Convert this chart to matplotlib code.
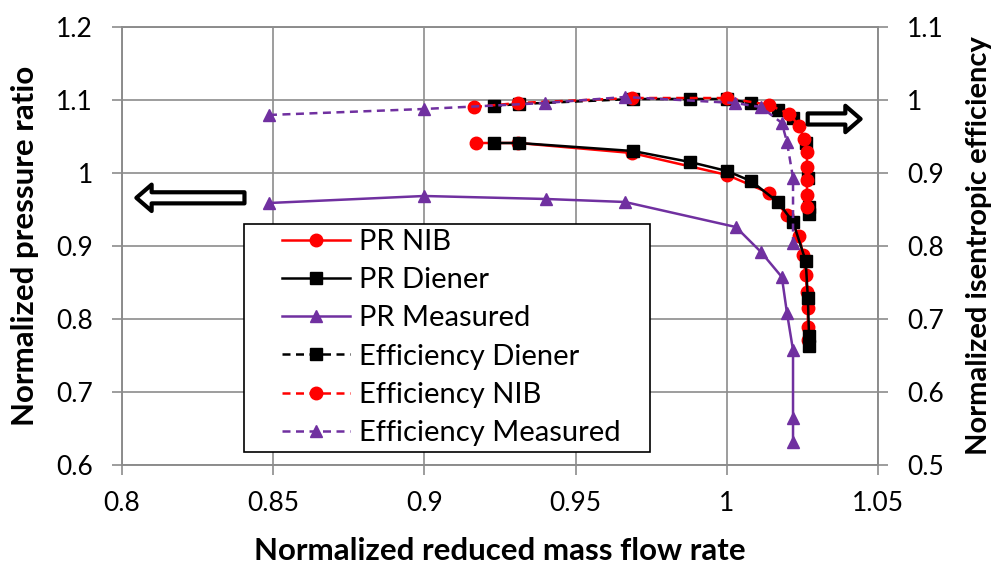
import matplotlib
matplotlib.use("Agg")
import matplotlib.pyplot as plt
from matplotlib.patches import Rectangle

plt.rcParams["font.family"] = ["Lato", "DejaVu Sans"]

# ---- data ----
pr_nib_x = [0.9171, 0.9310, 0.9686, 1.0001, 1.0140, 1.0199, 1.0240, 1.0252, 1.0261, 1.0265, 1.0268, 1.0268, 1.0268]
pr_nib_y = [1.0411, 1.0411, 1.0274, 0.9973, 0.9726, 0.9425, 0.9137, 0.8877, 0.8603, 0.8370, 0.8151, 0.7890, 0.7712]

pr_diener_x = [0.9230, 0.9313, 0.9690, 0.9878, 1.0001, 1.0080, 1.0169, 1.0219, 1.0261, 1.0268, 1.0272, 1.0272]
pr_diener_y = [1.0411, 1.0411, 1.0301, 1.0151, 1.0027, 0.9890, 0.9603, 0.9329, 0.8795, 0.8288, 0.7767, 0.7630]

pr_meas_x = [0.8486, 0.8999, 0.9402, 0.9663, 1.0030, 1.0113, 1.0182, 1.0199, 1.0219, 1.0219, 1.0219]
pr_meas_y = [0.9589, 0.9685, 0.9644, 0.9603, 0.9260, 0.8918, 0.8575, 0.8082, 0.7575, 0.6644, 0.6315]

eff_diener_x = pr_diener_x
eff_diener_y = [0.9918, 0.9945, 1.0014, 1.0014, 1.0014, 0.9959, 0.9863, 0.9753, 0.9411, 0.8932, 0.8534, 0.8438]

eff_nib_x = [0.9164, 0.9310, 0.9686, 1.0001, 1.0140, 1.0206, 1.0240, 1.0255, 1.0265, 1.0265, 1.0265, 1.0265, 1.0265]
eff_nib_y = [0.9904, 0.9959, 1.0027, 1.0027, 0.9932, 0.9808, 0.9644, 0.9466, 0.9288, 0.9082, 0.8904, 0.8699, 0.8534]

eff_meas_x = [0.8486, 0.8999, 0.9399, 0.9663, 1.0027, 1.0113, 1.0182, 1.0199, 1.0219, 1.0219]
eff_meas_y = [0.9795, 0.9877, 0.9959, 1.0041, 0.9959, 0.9904, 0.9685, 0.9425, 0.8932, 0.8041]

x_ticks = [0.8, 0.85, 0.9, 0.95, 1.0, 1.05]
pr_ticks = [0.6, 0.7, 0.8, 0.9, 1.0, 1.1, 1.2]
eff_ticks = [0.5, 0.6, 0.7, 0.8, 0.9, 1.0, 1.1]

RED = "#ff0000"
BLACK = "#000000"
PURPLE = "#7030a0"
GRID = "#8c8c8c"

def fmt(v):
    s = f"{v:.2f}".rstrip("0").rstrip(".")
    return s

fig = plt.figure(figsize=(9.94, 5.65), dpi=100)
ax = fig.add_axes([122 / 994, 1 - 465 / 565, 756 / 994, 438 / 565])
ax2 = ax.twinx()

lw = 1.8
ms = 9
dash = (0, (3.2, 2.2))

h1, = ax.plot(pr_nib_x, pr_nib_y, color=RED, lw=lw, marker="o", ms=ms, label="PR NIB")
h2, = ax.plot(pr_diener_x, pr_diener_y, color=BLACK, lw=lw, marker="s", ms=ms - 0.5, label="PR Diener")
h3, = ax.plot(pr_meas_x, pr_meas_y, color=PURPLE, lw=lw, marker="^", ms=ms, label="PR Measured")

h4, = ax2.plot(eff_diener_x, eff_diener_y, color=BLACK, lw=lw, ls=dash, marker="s", ms=ms - 0.5, label="Efficiency Diener")
h5, = ax2.plot(eff_nib_x, eff_nib_y, color=RED, lw=lw, ls=dash, marker="o", ms=ms, label="Efficiency NIB")
h6, = ax2.plot(eff_meas_x, eff_meas_y, color=PURPLE, lw=lw, ls=dash, marker="^", ms=ms, label="Efficiency Measured")

ax.set_xlim(0.8, 1.05)
ax.set_ylim(0.6, 1.2)
ax2.set_ylim(0.5, 1.1)
ax.set_xticks(x_ticks)
ax.set_xticklabels([fmt(v) for v in x_ticks])
ax.set_yticks(pr_ticks)
ax.set_yticklabels([fmt(v) for v in pr_ticks])
ax2.set_yticks(eff_ticks)
ax2.set_yticklabels([fmt(v) for v in eff_ticks])

ax.grid(True, color=GRID, lw=1.2)
ax.set_axisbelow(True)
for a in (ax, ax2):
    for sp in a.spines.values():
        sp.set_color(GRID)
        sp.set_linewidth(1.2)
    a.tick_params(direction="out", length=7, width=1.2, color=GRID, labelsize=19,
                  labelcolor="black", pad=14)
ax.tick_params(axis="x", pad=12)

ax.set_xlabel("Normalized reduced mass flow rate", fontsize=22.5, fontweight="bold", labelpad=15)
ax.set_ylabel("Normalized pressure ratio", fontsize=22.5, fontweight="bold", labelpad=12)
ax2.set_ylabel("Normalized isentropic efficiency", fontsize=21, fontweight="bold", labelpad=16)

# hollow arrows pointing to each axis
arrow = dict(arrowstyle="simple,tail_width=0.8,head_width=1.9,head_length=1.1",
             fc="white", ec="black", lw=3, mutation_scale=10, shrinkA=0, shrinkB=0)
ax2.annotate("", xy=(0.019, 0.610), xytext=(0.162, 0.610), xycoords="axes fraction",
             arrowprops=arrow, zorder=5)
ax2.annotate("", xy=(0.977, 0.790), xytext=(0.907, 0.790), xycoords="axes fraction",
             arrowprops=arrow, zorder=5)

# legend with a wide white box
box = Rectangle((0.1614, 0.0297), 0.537, 0.5205, transform=ax2.transAxes,
                fc="white", ec="black", lw=1.2, zorder=8)
ax2.add_patch(box)
leg = ax2.legend(handles=[h1, h2, h3, h4, h5, h6], loc="upper left",
                 bbox_to_anchor=(0.212, 0.539), frameon=False, fontsize=21,
                 handlelength=2.33, handletextpad=0.3, labelspacing=0.42,
                 borderpad=0, borderaxespad=0)
leg.set_zorder(9)

fig.savefig("out.png", dpi=100)
